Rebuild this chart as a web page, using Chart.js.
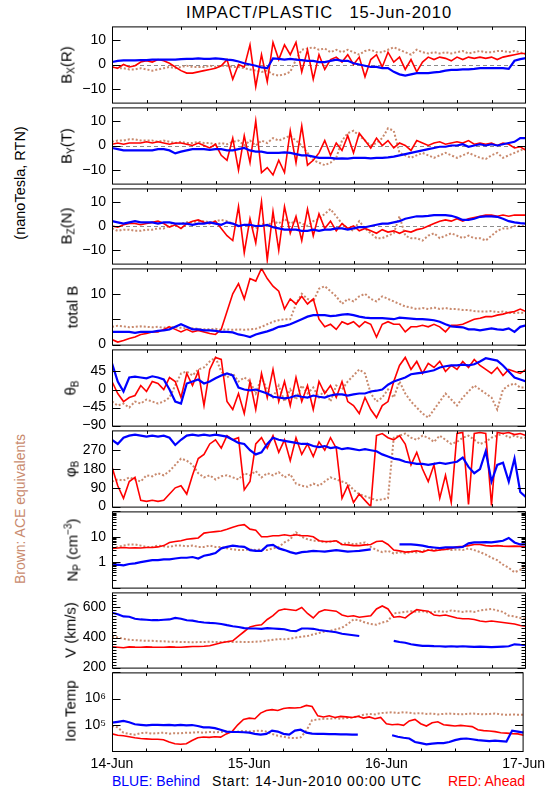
<!DOCTYPE html>
<html>
<head>
<meta charset="utf-8">
<title>IMPACT/PLASTIC 15-Jun-2010</title>
<script src="https://cdn.jsdelivr.net/npm/chart.js@4.4.1/dist/chart.umd.min.js"></script>
<style>
  body { margin: 0; background: #fff; }
  #page { position: relative; width: 550px; height: 800px; overflow: hidden; font-family: "Liberation Sans", Arial, sans-serif; color: #000; }
  #page canvas { position: absolute; left: 0; }
  .txt { position: absolute; white-space: pre; line-height: 1; font-size: 14px; }
  .vert { transform: translate(-50%, -50%) rotate(-90deg); }
  sub { font-size: 10px; vertical-align: -3px; line-height: 0; }
  sup { font-size: 10px; vertical-align: 6px; line-height: 0; }
</style>
</head>
<body>
<div id="page">
  <div class="txt" style="left:112px;width:414px;top:4px;text-align:center;font-size:16.5px;letter-spacing:0.9px">IMPACT/PLASTIC   15-Jun-2010</div>
  <div class="txt vert" style="left:20px;top:183px;font-size:14.5px">(nanoTesla, RTN)</div>
  <div class="txt vert" style="left:20px;top:509px;color:#c98a6e">Brown: ACE equivalents</div>
  <div class="txt" style="left:112px;top:774px;color:#0000ff">BLUE: Behind</div>
  <div class="txt" style="left:212px;top:774px;letter-spacing:0.8px">Start: 14-Jun-2010 00:00 UTC</div>
  <div class="txt" style="right:25px;top:774px;color:#ff0000">RED: Ahead</div>
</div>
<script>
// time axis: hours since 14-Jun-2010 00:00
const HOURS = Array.from({ length: 73 }, (_, i) => i);
const DAY_TICKS = [0, 24, 48, 72];
const DAY_LABELS = ['14-Jun', '15-Jun', '16-Jun', '17-Jun'];

// hourly values (blue = Behind, red = Ahead, brown = ACE)
const BX_BLUE = [1, 1.5, 1.7, 1.7, 1.7, 1.8, 1.8, 2, 2, 2, 2, 2,
  2.2, 2.3, 2.3, 2.5, 2.3, 2.3, 2.5, 2.3, 2, 1.8, 1.2, 0.5,
  0, -0.5, -1.2, -1.5, 2.5, 2.3, 2, 2.3, 2, 1.8, 1.5, 1.5,
  1, 1, 1.5, 2, 1.5, 1.5, 0.5, 0, -0.5, -1, -1, -1.5,
  -1.5, -3, -4, -4.5, -4, -3.5, -3.5, -3.5, -3.2, -3, -2.5, -2.2,
  -2.2, -2, -2, -1.8, -1.5, -1.5, -1.5, -1.5, -1.5, -1.8, 1.5, 2.2,
  2.6];
const BX_RED = [-1, -1.5, 0, -1, -0.5, 1, 1.5, 1, 2, 1.5, 0.5, -1,
  -2.5, -3.5, -3.5, -3, -2.5, -2, -1.5, -0.5, 2, -6, 0, -1,
  8, -9, 4, -7, 9, 2, 8, 4, 9, -3, 6, -6,
  4, -2, 2, 3, 1, 4, 0, 3, -5, 2, 4, -1,
  5, 1, 3, -2, 2, -3, 1, 3, 2, 3, 2.5, 1.5,
  3, 2, 3, 2.5, 3, 2.5, 3, 2, 3, 3.5, 4, 4.5,
  4.5];
const BX_BROWN = [-1, -1.5, -1.5, -2, -2, -1.5, -2, -2.5, -2, -1.5, -1, -1.5,
  -1, -0.5, -1, -1, -1, -0.5, -1, -0.5, -0.5, -1, -1, -1.5,
  -2, -2.5, -3, -2.5, -4, -4.5, -4, -3, 2, 6, 6.5, 7,
  6, 6.5, 5, 6, 5, 6, 5, 4, 5.5, 6, 5, 5,
  6, 7, 6, 5, 4, 6, 5, 4.5, 5, 4.5, 5, 4.5,
  5, 5.5, 4.5, 5, 5.5, 5, 5, 5.5, 5.5, 5, 5.5, 5,
  4];

const BY_BLUE = [-1, -1.5, -2, -2, -2, -2, -2, -2, -1.5, -1.5, -2, -3.2,
  -2.5, -2, -1.5, -1.5, -1.5, -1.8, -1.5, -1.5, -2, -2, -1.5, -1,
  -2, -2.5, -2.5, -3, -3, -3, -2.8, -3, -3.5, -4, -4, -4.5,
  -5, -5, -5, -5.3, -5.2, -5.3, -5, -5, -5, -5.2, -5, -5,
  -4.8, -4.5, -4, -3.5, -3, -2.5, -2, -1.5, -1, -0.5, -0.5, 0,
  0, 0.5, -0.5, 0, 0.5, 0, 0.5, 0, 0.5, 1, 1.5, 3,
  3];
const BY_RED = [0.5, 1, 0.5, 1, 1, 1, 1.5, 1, 1.5, 1, 0.5, 1,
  1, 0.5, 0, 1, 0, -1, 0.5, -4, -6, 3, -10, 4,
  -7, 10, -11, -9, -12, -6, -11, 6, -7, 8, -8, -6,
  -3, 2, -4, 1, -2, 4, -3, 5, 2, -1, 3, 0,
  2, -1, 1, 0, -2, 2, 1, 0, 1, 1.5, 0.5, 1,
  1.5, 1, 2, 0.5, 1, 0.5, 1, 0, 1, 0.5, -1, -0.5,
  -2];
const BY_BROWN = [1.5, 2, 2, 2.5, 2.5, 2, 2, 2, 1.5, 2, 1.5, 1,
  1.5, 1, 1, 1.5, 1, 1, 0.5, 1, 0.5, 1.5, 2, 0,
  2, 0, 2, 1, 3, 2, 3, 4, 2, 0, -3, -6,
  -7, -8, -7, -5, 2, 5, 6, 4, 2, 0, 1, 3,
  7, 6, -3, -4, -5, -4, -3, -4, -5, -4, -3, -4,
  -5, -4, -3, -4, -5, -5.5, -4, -3, -5, -4, -3, -2,
  -1];

const BZ_BLUE = [2, 1.5, 1, 1.5, 2, 1.5, 1.5, 1.5, 1, 1.5, 1.5, 1,
  1, 1, 0.5, 1, 1, 1.5, 1, 0.5, 1.5, 1, 0, 0.5,
  0.5, 0, 0, 0.5, -0.5, -1, -1.5, -1.5, -1.5, -2, -2, -1.5,
  -2, -1.5, -1.5, -1, -1, -1.5, -1, -0.5, -0.5, 0, 0.5, 1,
  1, 1.5, 2, 3, 3.5, 4, 4, 4.2, 4.5, 4.5, 4.5, 4.2,
  3.5, 2.5, 2.5, 3, 3.8, 4, 4, 3.8, 3, 2, 1.5, 1.2,
  1];
const BZ_RED = [0, -0.5, 0.5, 1, 1, 0.5, 1, 1.5, 2, 1, -0.5, 0.5,
  -1, 1, 2, 2.5, 1.5, 1, 2, -1, -4, -6, 8, -11,
  3, -7, 10, -14, 6, -10, 8, -3, 4, -6, 7, -4,
  5, -1, 2, -2, 1, -1, 0, -2, -1, -2, -3, -1.5,
  -2.5, -2, -3, -2, -2.5, -1.5, -1, 0, 1, 2, 2.5, 2,
  3, 2, 3, 3.5, 4, 4.5, 4.5, 4, 4.5, 4, 4.5, 4.5,
  4.5];
const BZ_BROWN = [-1, -2, -1.5, -1.5, -2, -2, -1.5, -1.5, -1, -1, 0, 0.5,
  1, 1.5, 1.5, 2, 2, 1.5, 2, 2.5, 2, 1, 0, 0.5,
  0, -1, 1, 0, 2, 1, 3, 1, 2, 1, 0, 2,
  3, 5, 7, 4, 1, -1, -2, 2, -1, -3, -5, -5,
  -4, -3, 4, -4, -5, -5, -6, -4, -3, -5, -4, -3,
  -4, -5, -4, -5, -5, -6, -4, -2, -1, -1, 0, 0,
  0];

const TB_BLUE = [2.5, 2.5, 2.5, 2.5, 2.3, 2.5, 2.5, 2.5, 2.7, 2.8, 3, 3.5,
  4, 3.5, 3, 3, 2.8, 2.8, 2.7, 2.5, 2.5, 2.4, 2, 1.8,
  1.5, 2, 2.3, 2.6, 3, 3.5, 3.7, 4, 4.5, 5, 5.5, 5.8,
  5.8, 5.8, 5.6, 5.7, 5.9, 6, 5.8, 5.5, 5.3, 5.2, 5.2, 5.2,
  5.1, 5, 5.3, 5.2, 5.1, 5, 5, 4.9, 4.8, 4.5, 4, 3.6,
  3.5, 3.4, 3, 3, 2.8, 3, 3.2, 3, 2.9, 3.2, 2.5, 3.5,
  3.8];
const TB_RED = [1, 0.5, 0.8, 1.2, 1.5, 2, 2.2, 2.5, 2.5, 3, 3.5, 3,
  2.5, 3, 2.5, 2.8, 2.5, 2.2, 2, 3, 6.5, 10, 12, 9,
  13, 12.5, 15, 13, 11.5, 10.5, 7, 9, 8, 9.5, 8, 9,
  5, 3.5, 4, 3, 4.5, 4, 4.5, 3.5, 4.5, 4, 1.5, 4,
  4.5, 4, 4, 2.5, 3.5, 3.5, 3.8, 3.5, 4, 3.5, 2.5, 3.8,
  3.8, 4, 4.5, 5, 5.2, 5.5, 5.5, 5.8, 6, 6.3, 6.5, 7,
  6.5];
const TB_BROWN = [3.5, 3.7, 3.6, 3.4, 3.5, 3.6, 3.5, 3.4, 3.5, 3.3, 3.5, 3.4,
  3.3, 3.2, 3.2, 3.1, 3, 3, 3.1, 2.9, 3, 2.9, 3, 2.9,
  3, 3.1, 3.5, 4, 4.5, 4.8, 5, 5, 8, 10, 9, 8.5,
  11, 11.5, 10.5, 9.5, 8, 9, 8.5, 9.5, 10, 9, 8.5, 9.5,
  9, 8.5, 8, 7.5, 7.3, 7, 7.2, 7, 7.3, 7, 7.2, 7,
  7, 6.8, 6.8, 6.6, 6.5, 6.5, 6.6, 6.4, 6.5, 6.3, 6.2, 6.3,
  6.2];

const TH_BLUE = [65, 20, -5, 30, 32, 30, 28, 33, 30, 25, 0, -30,
  -35, 15, 20, 25, 15, 20, 28, 35, 40, 35, 5, 0,
  -2, 0, -5, -10, -18, -20, -22, -20, -15, -18, -20, -15,
  -18, -20, -15, -12, -12, -15, -12, -10, -10, -5, -3, 0,
  12, 20, 25, 30, 38, 40, 42, 45, 48, 55, 58, 60,
  60, 62, 60, 63, 70, 78, 75, 72, 60, 45, 30, 25,
  20];
const TH_RED = [20, -10, -30, -20, -15, 10, -5, 20, 15, 0, 30, 20,
  -20, 40, 10, 45, -40, 50, 80, 75, -30, -50, -10, -60,
  20, -50, 40, -20, 50, -30, 20, -40, 30, -30, 10, -50,
  20, -10, 10, -20, 20, -30, -40, -60, -20, -50, -70, -40,
  -30, 20, 60, 80, 50, 70, 40, 65, 55, 70, 45, 60,
  50, 70, 55, 75, 60, 50, 40, 55, 35, 50, 45, 40,
  50];
const TH_BROWN = [-30, -40, -35, -45, -30, -35, -25, -30, -35, -30, -20, 10,
  40, 45, 35, 50, 55, 70, 80, 45, 30, 40, 20, 30,
  20, -10, 30, 0, -20, 10, -30, 0, -25, 10, -10, 5,
  -20, 0, -30, 10, 0, 20, 35, 50, 40, -10, -30, -20,
  0, -20, 20, -10, -30, -45, -60, -70, -50, -30, -10, -25,
  -40, -20, -5, 10, 0, -10, -20, -50, 0, 10, 15, 5,
  5];

const PH_BLUE = [320, 300, 330, 340, 345, 340, 335, 340, 335, 340, 330, 295,
  320, 340, 345, 340, 345, 340, 345, 340, 335, 320, 305, 300,
  270, 250, 260, 300, 330, 320, 315, 310, 305, 300, 300, 290,
  285, 290, 280, 285, 275, 280, 275, 270, 275, 270, 265, 250,
  240, 230, 225, 215, 210, 205, 205, 200, 205, 210, 205, 210,
  215, 235, 190, 160, 180, 265, 120, 200, 210, 120, 230, 70,
  45];
const PH_RED = [190, 100, 40, 120, 140, 30, 25, 30, 25, 30, 60, 90,
  100, 60, 150, 230, 250, 300, 320, 280, 340, 320, 330, 80,
  120, 300, 330, 280, 340, 260, 320, 220, 330, 250, 300, 240,
  310, 270, 330, 280, 40, 100, 20, 60, 30, 0, 340, 350,
  330, 320, 340, 300, 200, 260, 180, 120, 200, 40, 150, 20,
  350, 355, 10, 350, 355, 350, 5, 355, 350, 355, 345, 350,
  340];
const PH_BROWN = [120, 130, 125, 140, 130, 120, 150, 145, 160, 150, 170, 200,
  230, 220, 200, 160, 140, 150, 130, 145, 150, 140, 130, 160,
  150, 170, 140, 160, 150, 165, 140, 155, 110, 100, 95, 110,
  100, 120, 140, 130, 120, 110, 80, 60, 50, 40, 30, 35,
  40, 330, 340, 350, 330, 320, 340, 330, 310, 340, 320, 300,
  310, 330, 340, 320, 300, 310, 330, 340, 350, 330, 340, 330,
  330];

const NP_BLUE = [0.75, 0.8, 0.75, 0.85, 0.9, 1, 1.1, 1.2, 1.2, 1.3, 1.3, 1.4,
  1.5, 1.5, 1.6, 1.4, 1.8, 2, 2.3, 3.5, 4, 4.5, 4.2, 4,
  3, 2.8, 2.8, 4.5, 4.8, 3.5, 3, 2.5, 2.2, 2.5, 2.6, 2.8,
  2.7, 2.6, 2.8, 3, 2.8, 2.6, 2.7, 2.8, 3, 3.2, null, null,
  null, null, 5, 5, 5, 4.8, 4.5, 4, 3.8, 3.6, 3.8, 3.8,
  3.8, 4, 5.5, 6, 6, 6.2, 6, 6.5, 7, 9, 6, 5,
  5];
const NP_RED = [3.5, 3.6, 3.8, 3.6, 3.7, 3.6, 3.8, 3.8, 4, 4.5, 6, 6.5,
  7, 8, 8.5, 9, 14, 15, 16, 17, 20, 24, 28, 30,
  20, 18, 10, 10, 11, 11, 12, 11, 12, 11, 11, 10,
  7, 6.5, 6.5, 7, 5, 4.8, 4.5, 4.5, 4.8, 5, 6.5, 6.8,
  5, 3, 2.8, 2.5, 2.6, 2.8, 2.5, 3, 2.8, 3, 3.2, 3.5,
  4, 4.2, 4.5, 5, 5, 4.5, 4.3, 4.5, 4.3, 4.2, 4.3, 4.2,
  4];
const NP_BROWN = [3.5, 4, 4.5, 5, 5, 4.5, 4, 4, 4.5, 4.2, 4, 4.5,
  4.5, 4.2, 4.5, 4, 4, 4.5, 4, 4, 3.5, 3.2, 3, 3,
  3.2, 3, 3.2, 3, 3.5, 4, 6, 8, 15, 10, 8, 7,
  7, 6, 6.5, 7, 5, 6, 5, 5.5, 6, 4, 3, 2.5,
  2.8, 2.2, 2.5, 2.2, 2.6, 2.4, 2.8, 3, 3.2, 3, 3.4, 3,
  3.2, 3, 3.5, 3, 2.5, 2, 1.5, 1.2, 0.8, 0.6, 0.4, 0.5,
  0.8];

const V_BLUE = [565, 555, 540, 538, 525, 520, 518, 515, 515, 518, 520, 530,
  525, 515, 512, 505, 500, 497, 495, 490, 482, 475, 470, 462,
  460, 460, 458, 462, 460, 458, 455, 445, 442, 460, 460, 458,
  450, 445, 440, 435, 425, 420, 415, 410, null, null, null, null,
  null, 378, 370, 365, 355, 350, 345, 345, 343, 342, 340, 342,
  340, 342, 340, 338, 340, 338, 336, 338, 340, 342, 355, 352,
  350];
const V_RED = [338, 335, 332, 338, 336, 335, 338, 336, 335, 335, 338, 336,
  335, 338, 340, 340, 342, 345, 355, 365, 372, 378, 410, 440,
  470, 480, 485, 520, 545, 580, 590, 585, 580, 600, 560, 530,
  570, 585, 580, 575, 550, 540, 545, 535, 540, 545, 590, 610,
  590, 535, 540, 530, 560, 585, 580, 575, 550, 545, 550, 540,
  530, 525, 525, 520, 510, 505, 510, 505, 500, 495, 490, 480,
  475];
const V_BROWN = [405, 400, 392, 385, 382, 380, 378, 378, 375, 375, 372, 372,
  370, 370, 368, 370, 370, 372, 370, 370, 372, 370, 372, 370,
  370, 372, 375, 380, 385, 390, 388, 392, 400, 405, 410, 420,
  430, 440, 445, 455, 465, 490, 520, 515, 500, 490, 485, 500,
  510, 560, 565, 570, 575, 570, 575, 565, 570, 575, 570, 580,
  575, 570, 575, 570, 580, 585, 590, 580, 570, 545, 540, 530,
  525];

const T_BLUE = [1.2e5, 1.3e5, 1.4e5, 1.25e5, 1.05e5, 1e5, 9.5e4, 1e5, 1e5, 9.8e4, 1e5, 9.5e4,
  1e5, 9.5e4, 9.8e4, 9e4, 8e4, 8e4, 7.5e4, 6.5e4, 5.5e4, 5.3e4, 5.3e4, 5.2e4,
  5e4, 4.5e4, 4.2e4, 4.5e4, 6e4, 5.5e4, 4.5e4, 4.2e4, 6e4, 6.5e4, 5e4, 4.6e4,
  4.5e4, 4.5e4, 4.4e4, 4.4e4, 4.3e4, 4.3e4, 4.2e4, 4.2e4, null, null, null, null,
  null, 4e4, 3.5e4, 3.2e4, 3e4, 2.2e4, 2e4, 1.8e4, 1.9e4, 2e4, 2e4, 2.2e4,
  2.6e4, 2.9e4, 3e4, 2.8e4, 2.6e4, 2.5e4, 2.4e4, 2.5e4, 2.4e4, 2.3e4, 6e4, 5.5e4,
  5e4];
const T_RED = [4.5e4, 4e4, 3.8e4, 3.5e4, 3.2e4, 3e4, 2.9e4, 2.8e4, 2.8e4, 2.7e4, 2.2e4, 1.9e4,
  1.8e4, 1.9e4, 2.5e4, 3.2e4, 3.4e4, 3.3e4, 3.5e4, 3.4e4, 4.5e4, 5.5e4, 1e5, 1.6e5,
  1.8e5, 1.7e5, 2.8e5, 3.5e5, 3.8e5, 3.5e5, 4.2e5, 4.5e5, 4.4e5, 4.6e5, 5.5e5, 5e5,
  2.2e5, 2e5, 2.2e5, 1.9e5, 2.1e5, 2e5, 1.9e5, 2.1e5, 1.8e5, 2e5, 1.7e5, 1.9e5,
  1.1e5, 1e5, 1.05e5, 9.5e4, 1.4e5, 1.6e5, 1.1e5, 9e4, 1.2e5, 1.3e5, 1e5, 9.5e4,
  9e4, 9.5e4, 9e4, 8.5e4, 6.5e4, 6e4, 5.8e4, 5.5e4, 5e4, 4.8e4, 4.6e4, 4.5e4,
  4e4];
const T_BROWN = [9e4, 8e4, 5e4, 4.5e4, 4.2e4, 4.8e4, 5e4, 4.6e4, 4.8e4, 5e4, 4.6e4, 4.8e4,
  4.7e4, 5e4, 5e4, 5.2e4, 5e4, 5.3e4, 5.2e4, 5.3e4, 5.5e4, 5.3e4, 5.5e4, 5.8e4,
  5.5e4, 5.8e4, 6e4, 5.5e4, 4.5e4, 3.8e4, 3.5e4, 3.2e4, 3.1e4, 3.3e4, 6e4, 1.5e5,
  1.6e5, 1.7e5, 1.7e5, 1.8e5, 1.7e5, 1.8e5, 1.9e5, 2.1e5, 2.4e5, 2.6e5, 2.5e5, 2.8e5,
  2.9e5, 3e5, 2.8e5, 3e5, 2.9e5, 2.7e5, 2.8e5, 2.6e5, 2.7e5, 2.5e5, 2.6e5, 2.7e5,
  2.6e5, 2.5e5, 2.6e5, 2.7e5, 2.6e5, 2.5e5, 2.6e5, 2.7e5, 2.5e5, 2.4e5, 2.5e5, 2.4e5,
  2.4e5];

const BLUE = '#0000ff';
const RED = '#ff0000';
const BROWN = '#c98a6e';
const FONT = '"Liberation Sans", Arial, sans-serif';

// axis minor ticks (positions only)
const NP_MINOR = [];
[0.1, 1, 10].forEach(d => { for (let m = 2; m <= 9; m++) NP_MINOR.push(d * m); });
const V_MINOR = [];
for (let v = 220; v < 700; v += 20) if (v % 200 !== 0) V_MINOR.push(v);

const PANELS = [
  { title: 'B<sub>X</sub>(R)', tx: 66, series: [BX_BLUE, BX_RED, BX_BROWN], type: 'linear', min: -15.5, max: 15.5,
    major: [-10, 0, 10], labels: { '-10': '−10', '0': '0', '10': '10' }, zero: true },
  { title: 'B<sub>Y</sub>(T)', tx: 66, series: [BY_BLUE, BY_RED, BY_BROWN], type: 'linear', min: -15.5, max: 15.5,
    major: [-10, 0, 10], labels: { '-10': '−10', '0': '0', '10': '10' }, zero: true },
  { title: 'B<sub>Z</sub>(N)', tx: 66, series: [BZ_BLUE, BZ_RED, BZ_BROWN], type: 'linear', min: -15.5, max: 15.5,
    major: [-10, 0, 10], labels: { '-10': '−10', '0': '0', '10': '10' }, zero: true },
  { title: 'total B', tx: 72, series: [TB_BLUE, TB_RED, TB_BROWN], type: 'linear', min: 0, max: 15,
    major: [0, 5, 10], labels: { '0': '0', '10': '10' } },
  { title: 'θ<sub>B</sub>', tx: 70, series: [TH_BLUE, TH_RED, TH_BROWN], type: 'linear', min: -90, max: 100,
    major: [-90, -45, 0, 45], labels: { '-90': '−90', '-45': '−45', '0': '0', '45': '45' } },
  { title: 'φ<sub>B</sub>', tx: 70, series: [PH_BLUE, PH_RED, PH_BROWN], type: 'linear', min: 0, max: 365,
    major: [0, 90, 180, 270], labels: { '0': '0', '90': '90', '180': '180', '270': '270' } },
  { title: 'N<sub>P</sub> (cm<sup>−3</sup>)', tx: 72, series: [NP_BLUE, NP_RED, NP_BROWN], type: 'logarithmic', min: 0.1, max: 100,
    major: [0.1, 1, 10, 100], minor: NP_MINOR, labels: { '1': '1', '10': '10' } },
  { title: 'V (km/s)', tx: 70, series: [V_BLUE, V_RED, V_BROWN], type: 'linear', min: 200, max: 700,
    major: [200, 400, 600], minor: V_MINOR, labels: { '200': '200', '400': '400', '600': '600' } },
  { title: 'Ion Temp', tx: 70, series: [T_BLUE, T_RED, T_BROWN], type: 'logarithmic', min: 1e4, max: 1e7,
    major: [1e4, 1e5, 1e6, 1e7], labels: { '100000': '10⁵', '1000000': '10⁶' } }
];

const STYLES = [
  { color: BLUE, width: 2.2, dash: [] },
  { color: RED, width: 1.6, dash: [] },
  { color: BROWN, width: 2, dash: [2, 2] }
];

const PAD = 12;
const XAXIS_H = 30;
const page = document.getElementById('page');

function framePlugin(p) {
  return {
    id: 'frame',
    beforeDatasetsDraw(chart) {
      if (!p.zero) return;
      const { ctx, chartArea: a, scales: { y } } = chart;
      const yy = Math.round(y.getPixelForValue(0)) + 0.5;
      ctx.save();
      ctx.strokeStyle = '#8c8c8c';
      ctx.lineWidth = 1;
      ctx.setLineDash([4, 3]);
      ctx.beginPath();
      ctx.moveTo(a.left, yy);
      ctx.lineTo(a.right, yy);
      ctx.stroke();
      ctx.restore();
    },
    afterDatasetsDraw(chart) {
      const { ctx, chartArea: a, scales: { x, y } } = chart;
      const L = a.left + 0.5, R = a.right - 0.5, T = a.top + 0.5, B = a.bottom + 0.5;
      ctx.save();
      ctx.strokeStyle = '#000';
      ctx.lineWidth = 1;
      ctx.strokeRect(L, T, R - L, B - T);
      ctx.beginPath();
      for (let h = 6; h < 72; h += 6) {
        const px = Math.round(x.getPixelForValue(h)) + 0.5;
        ctx.moveTo(px, T); ctx.lineTo(px, T + 3);
        ctx.moveTo(px, B); ctx.lineTo(px, B - 3);
      }
      p.major.forEach(v => {
        const py = Math.round(y.getPixelForValue(v)) + 0.5;
        ctx.moveTo(L, py); ctx.lineTo(L + 8, py);
        ctx.moveTo(R, py); ctx.lineTo(R - 8, py);
      });
      (p.minor || []).forEach(v => {
        const py = Math.round(y.getPixelForValue(v)) + 0.5;
        ctx.moveTo(L, py); ctx.lineTo(L + 4, py);
        ctx.moveTo(R, py); ctx.lineTo(R - 4, py);
      });
      ctx.stroke();
      ctx.restore();
    }
  };
}

PANELS.forEach((p, k) => {
  const top = Math.round(24 + 80.8 * k);
  const bottom = Math.round(24 + 80.8 * (k + 1));
  const last = k === PANELS.length - 1;

  const canvas = document.createElement('canvas');
  canvas.width = 550;
  canvas.height = bottom - top + PAD + (last ? XAXIS_H : PAD);
  canvas.style.top = (top - PAD) + 'px';
  page.appendChild(canvas);

  const label = document.createElement('div');
  label.className = 'txt vert';
  label.style.left = p.tx + 'px';
  label.style.top = ((top + bottom) / 2) + 'px';
  label.style.fontSize = '15px';
  label.innerHTML = p.title;
  page.appendChild(label);

  new Chart(canvas, {
    type: 'line',
    data: {
      datasets: p.series.map((vals, i) => ({
        data: vals.map((v, j) => ({ x: HOURS[j], y: v })),
        borderColor: STYLES[i].color,
        borderWidth: STYLES[i].width,
        borderDash: STYLES[i].dash,
        pointRadius: 0,
        tension: 0,
        spanGaps: false
      }))
    },
    options: {
      responsive: false,
      animation: false,
      devicePixelRatio: 1,
      events: [],
      layout: { padding: { top: PAD, bottom: last ? 0 : PAD, left: 0, right: 24 } },
      plugins: { legend: { display: false }, tooltip: { enabled: false } },
      scales: {
        x: {
          type: 'linear', min: 0, max: 72, display: last,
          afterBuildTicks: s => { s.ticks = DAY_TICKS.map(v => ({ value: v })); },
          afterFit: s => { s.height = last ? XAXIS_H : 0; },
          grid: { display: false, drawTicks: false },
          border: { display: false },
          ticks: {
            font: { family: FONT, size: 14 }, color: '#000', padding: 5,
            maxRotation: 0, autoSkip: false,
            callback: (v, i) => DAY_LABELS[i]
          }
        },
        y: {
          type: p.type, min: p.min, max: p.max, position: 'left',
          afterBuildTicks: s => { s.ticks = p.major.map(v => ({ value: v })); },
          afterFit: s => { s.width = 112; },
          grid: { display: false, drawTicks: false },
          border: { display: false },
          ticks: {
            font: { family: FONT, size: 14 }, color: '#000', padding: 6, autoSkip: false,
            callback: v => p.labels[String(v)] || ''
          }
        }
      }
    },
    plugins: [framePlugin(p)]
  });
});
</script>
</body>
</html>
